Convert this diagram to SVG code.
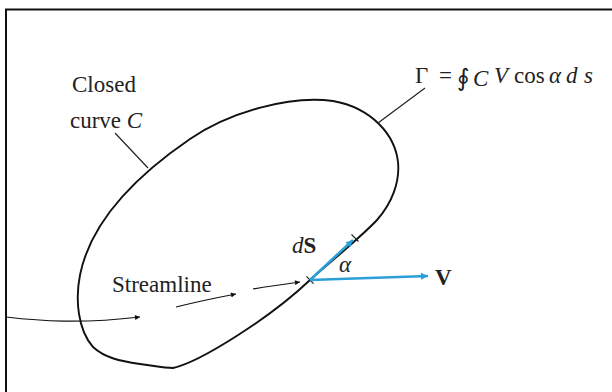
<svg xmlns="http://www.w3.org/2000/svg" width="612" height="392" viewBox="0 0 612 392">
<defs>
<marker id="ah" viewBox="0 0 10 10" refX="10" refY="5" markerWidth="9" markerHeight="5" markerUnits="userSpaceOnUse" orient="auto"><path d="M0,0 L10,5 L0,10 Z" fill="#111"/></marker>
<marker id="bh" viewBox="0 0 10 10" refX="10" refY="5" markerWidth="10" markerHeight="7" markerUnits="userSpaceOnUse" orient="auto"><path d="M0,0 L10,5 L0,10 Z" fill="#2a9fd8"/></marker>
</defs>
<style>
.t{font-family:"Liberation Serif","DejaVu Serif",serif;font-size:23px;fill:#222}
.i{font-style:italic}
.b{font-weight:bold}
.ln{fill:none;stroke:#222;stroke-width:1.2}
.cv{fill:none;stroke:#111;stroke-width:1.9}
.st{fill:none;stroke:#111;stroke-width:1.2}
.bl{fill:none;stroke:#2a9fd8;stroke-width:2.6}
</style>
<rect width="612" height="392" fill="#fff"/>
<path d="M5,9.5 H612 M6,9 V392" fill="none" stroke="#111" stroke-width="2"/>

<g id="curve">
<path class="cv" d="M173,368 C200,362 270,318 310,280 C335,258 362,236 377,220 C392,203 400,182 398,162 C395,135 372,108 333,101 C290,95 230,112 190,139 C130,180 90,225 80,275 C75,300 78,330 93,347 C105,358 120,361 140,364 C155,366 165,368 173,368 Z"/>
<path class="ln" d="M306.5,276.3 L313.5,283.7 M351.5,234.5 L358.5,241.5"/>
</g>

<g id="label-closed">
<text class="t" x="72" y="92">Closed</text>
<text class="t" x="70" y="128">curve <tspan class="i">C</tspan></text>
</g>

<g id="label-gamma">
<text class="t" x="415" y="83">Γ</text>
<text class="t" x="439" y="83">=</text>
<text class="t" x="457" y="86" style="font-family:'DejaVu Serif',serif;font-size:24px">∮</text>
<text class="t i" x="473" y="86">C</text>
<text class="t i" x="494" y="83">V</text>
<text class="t" x="514" y="83">cos</text>
<text class="t i" x="549" y="83">α</text>
<text class="t i" x="566" y="83">d</text>
<text class="t i" x="584" y="83">s</text>
</g>

<g id="label-streamline">
<text class="t" x="112" y="292">Streamline</text>
</g>

<g id="label-ds">
<text class="t" x="292" y="253"><tspan class="i">d</tspan><tspan class="b">S</tspan></text>
</g>
<g id="label-alpha">
<text class="t i" x="339" y="272">α</text>
</g>
<g id="label-v">
<text class="t b" x="435" y="285">V</text>
</g>

<g id="connectors">
<path class="ln" d="M115,133 L148,168"/>
<path class="ln" d="M425,88 L378,123"/>
<path class="st" d="M6,317 C40,321 80,324 140,317" marker-end="url(#ah)"/>
<path class="st" d="M176,307 C200,301 215,298 236,294" marker-end="url(#ah)"/>
<path class="st" d="M253,289 C270,286 285,284 300,282" marker-end="url(#ah)"/>
<path class="bl" d="M310,280 L353,240" marker-end="url(#bh)"/>
<path class="bl" d="M310,280 L428,276" marker-end="url(#bh)"/>
</g>
</svg>
